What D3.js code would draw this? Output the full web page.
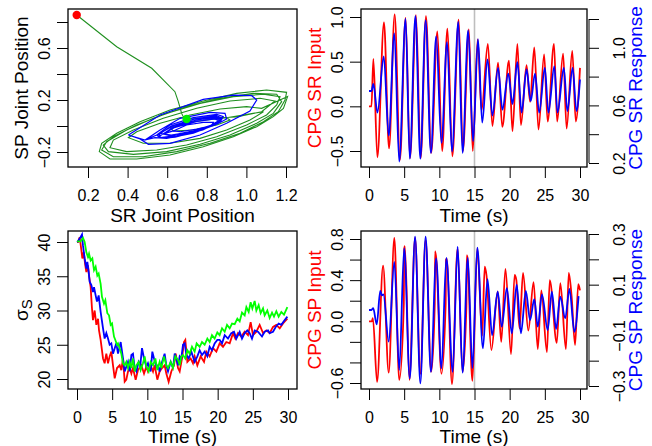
<!DOCTYPE html>
<html>
<head>
<meta charset="utf-8">
<script src="https://cdn.jsdelivr.net/npm/d3@7"></script>
<style>
body { margin: 0; background: #fff; }
text { font-family: "Liberation Sans", Arial, sans-serif; }
</style>
</head>
<body>
<div id="chart"></div>
<script>
// ---- panel 1: joint positions (SR vs SP) ----
const greenStart = [[0.143,0.854],[0.345,0.61],[0.522,0.444],[0.639,0.264],[0.656,0.187],[0.673,0.097],[0.685,0.059]];
const greenLoops = [
  [[0.681,0.021],[0.799,0.046],[0.900,0.064],[0.917,0.046],[0.850,0.008],[0.732,-0.031],[0.631,-0.038],[0.614,-0.013],[0.681,0.021],[0.799,0.046],[0.900,0.064]],
  [[1.086,0.110],[1.018,0.046],[0.900,-0.031],[0.766,-0.095],[0.614,-0.133],[0.479,-0.133],[0.404,-0.090],[0.446,-0.044],[0.564,0.021],[0.715,0.085],[0.867,0.131],[1.001,0.149],[1.077,0.136]],
  [[1.208,0.226],[1.187,0.136],[1.136,0.072],[1.052,-0.005],[0.934,-0.082],[0.782,-0.159],[0.614,-0.223],[0.446,-0.254],[0.311,-0.254],[0.257,-0.197],[0.269,-0.133],[0.345,-0.056],[0.463,0.033],[0.614,0.123],[0.782,0.192],[0.951,0.251],[1.102,0.277],[1.203,0.259]],
  [[1.195,0.200],[1.161,0.110],[1.086,0.033],[0.968,-0.056],[0.816,-0.133],[0.648,-0.197],[0.479,-0.236],[0.328,-0.236],[0.269,-0.185],[0.294,-0.121],[0.395,-0.031],[0.530,0.059],[0.698,0.149],[0.867,0.213],[1.035,0.251],[1.153,0.244]],
  [[1.178,0.187],[1.136,0.097],[1.052,0.021],[0.917,-0.069],[0.766,-0.141],[0.597,-0.197],[0.429,-0.218],[0.303,-0.197],[0.277,-0.146],[0.328,-0.082],[0.446,0.008],[0.597,0.097],[0.766,0.174],[0.934,0.226],[1.086,0.244],[1.170,0.226]],
  [[1.153,0.162],[1.102,0.085],[1.001,0.008],[0.850,-0.082],[0.698,-0.146],[0.547,-0.185],[0.395,-0.197],[0.311,-0.167],[0.328,-0.108],[0.429,-0.031],[0.580,0.059],[0.749,0.136],[0.917,0.192],[1.069,0.213],[1.144,0.192]]
];
const greenEnd = [[1.077,0.11],[0.95,0.07],[0.80,0.06],[0.698,0.054]];
const blueLoops = [
  [[0.404,-0.069],[0.564,0.085],[0.782,0.205],[0.934,0.238],[1.027,0.233],[1.052,0.200],[1.018,0.115],[0.900,0.021],[0.766,-0.069],[0.614,-0.133],[0.505,-0.141],[0.463,-0.100],[0.404,-0.069]],
  [[0.488,-0.108],[0.564,-0.031],[0.665,0.059],[0.816,0.105],[0.892,0.097],[0.900,0.054],[0.850,0.013],[0.732,-0.056],[0.597,-0.095],[0.538,-0.090],[0.488,-0.108]],
  [[0.547,-0.069],[0.614,0.008],[0.732,0.064],[0.850,0.090],[0.883,0.072],[0.867,0.028],[0.782,-0.023],[0.648,-0.074],[0.564,-0.090],[0.547,-0.069]],
  [[0.55,-0.075],[0.62,0.0],[0.74,0.055],[0.85,0.08],[0.875,0.062],[0.86,0.03],[0.78,-0.03],[0.65,-0.08],[0.57,-0.09],[0.55,-0.075]],
  [[0.56,-0.08],[0.63,-0.01],[0.745,0.045],[0.845,0.072],[0.87,0.055],[0.85,0.02],[0.77,-0.035],[0.64,-0.085],[0.575,-0.095],[0.56,-0.08]],
  [[0.564,-0.056],[0.631,0.003],[0.749,0.046],[0.841,0.064],[0.867,0.046],[0.833,0.008],[0.732,-0.038],[0.614,-0.074],[0.564,-0.056]],
  [[0.58,-0.06],[0.64,-0.01],[0.75,0.035],[0.84,0.055],[0.86,0.04],[0.82,0.005],[0.72,-0.045],[0.62,-0.07],[0.58,-0.06]],
  [[0.631,-0.038],[0.698,0.008],[0.782,0.028],[0.833,0.028],[0.825,0.003],[0.749,-0.023],[0.665,-0.044],[0.631,-0.038]]
];
const startPoint = [0.143, 0.854];
const endPoint = [0.698, 0.054];

// ---- panel 2: CPG SR input (left axis) and response (right axis) ----
const srInput = [[0,0],[0.35,0],[0.62,0.53],[1.19,-0.57],[2.13,0.94],[2.85,-0.47],[3.65,1.03],[4.4,-0.6],[5.2,0.99],[5.83,-0.58],[6.68,1.02],[7.35,-0.58],[8.1,1.01],[8.85,-0.52],[9.72,0.84],[10.4,-0.5],[11.15,0.87],[11.85,-0.56],[12.75,0.97],[13.35,-0.5],[14.2,0.86],[14.75,-0.5],[15.45,0.75],[16.0,-0.05],[16.9,0.7],[17.55,-0.22],[18.35,0.49],[18.95,-0.23],[19.9,0.51],[20.4,-0.28],[21.1,0.70],[21.6,-0.21],[22.4,0.46],[22.9,0.05],[23.5,0.66],[24.1,-0.26],[24.9,0.58],[25.4,-0.17],[26.3,0.70],[26.75,-0.17],[27.6,0.59],[28.1,-0.25],[28.9,0.62],[29.4,-0.17],[30,0.43]];
const srResponse = [[0,0.7],[0.35,0.7],[0.62,0.75],[1.2,0.55],[2.1,0.94],[2.8,0.39],[3.6,1.1],[4.3,0.21],[5.2,1.2],[5.8,0.23],[6.6,1.22],[7.3,0.23],[8.05,1.19],[8.8,0.27],[9.55,1.08],[10.3,0.34],[11.1,1.04],[11.8,0.28],[12.7,1.18],[13.3,0.27],[14.1,1.12],[14.8,0.35],[15.5,1.06],[16.1,0.48],[16.85,0.92],[17.55,0.53],[18.35,0.86],[18.97,0.57],[19.8,0.82],[20.4,0.61],[21.1,0.9],[21.7,0.55],[22.4,0.85],[23.0,0.63],[23.6,0.82],[24.2,0.55],[25.0,0.86],[25.5,0.55],[26.35,0.87],[26.8,0.55],[27.7,0.86],[28.2,0.56],[28.95,0.86],[29.5,0.56],[30,0.78]];

// ---- panel 3: sigma_S over time ----
const sigmaRed = [[0,40],[0.14,40.0],[0.38,40.7],[0.62,38.8],[0.76,37.6],[0.95,38.5],[1.18,36.6],[1.33,35.6],[1.56,36.6],[1.71,35.1],[1.94,33.4],[2.13,30.3],[2.27,28.6],[2.51,30.0],[2.75,27.9],[2.99,28.8],[3.13,27.1],[3.36,25.7],[3.70,23.0],[3.93,22.3],[4.17,23.7],[4.41,22.3],[4.64,23.3],[4.88,24.0],[5.12,22.0],[5.36,20.1],[5.69,21.6],[6.07,22.0],[6.30,21.3],[6.54,23.0],[6.78,19.6],[7.01,19.9],[7.25,21.1],[7.49,21.6],[7.73,20.8],[7.96,21.6],[8.34,19.9],[8.67,21.3],[9.15,22.0],[9.53,20.8],[9.86,21.8],[10.09,21.1],[10.47,22.0],[10.81,21.1],[11.04,22.0],[11.42,19.9],[11.75,21.1],[12.09,21.6],[12.46,22.0],[12.70,20.8],[13.03,19.6],[13.41,21.1],[13.79,22.0],[14.03,23.7],[14.36,21.6],[14.60,21.1],[14.93,23.0],[15.21,25.4],[15.40,25.7],[15.69,22.5],[16.16,23.0],[16.49,22.3],[16.73,23.3],[17.11,22.0],[17.58,23.3],[18.06,22.5],[18.39,24.0],[18.86,23.3],[19.34,24.5],[19.81,24.0],[20.28,25.2],[20.76,24.7],[21.23,25.4],[21.71,25.2],[22.18,26.7],[22.51,25.9],[22.89,26.7],[23.36,26.2],[23.84,26.9],[24.31,26.4],[24.69,28.3],[25.02,26.4],[25.50,26.9],[25.97,27.9],[26.45,26.7],[26.92,27.1],[27.39,26.7],[27.87,27.6],[28.34,27.9],[28.82,27.4],[29.29,28.1],[29.91,28.8]];
const sigmaBlue = [[0,40],[0.14,40.1],[0.38,40.5],[0.71,41.1],[0.85,39.5],[1.09,37.6],[1.33,36.1],[1.47,37.1],[1.66,35.6],[1.80,34.2],[2.04,33.7],[2.27,32.7],[2.42,33.4],[2.65,32.2],[2.84,31.3],[3.08,32.2],[3.36,29.8],[3.70,27.4],[3.93,25.9],[4.17,26.7],[4.41,25.9],[4.64,25.0],[4.88,25.2],[5.12,23.7],[5.36,24.5],[5.59,25.2],[5.83,23.7],[6.21,25.4],[6.54,23.0],[6.78,21.1],[7.01,21.8],[7.25,22.5],[7.49,21.1],[7.73,23.5],[7.96,23.7],[8.20,21.6],[8.44,21.1],[8.77,22.5],[9.00,22.0],[9.24,24.5],[9.53,23.0],[9.86,21.8],[10.09,22.3],[10.47,21.1],[10.71,24.0],[10.95,23.0],[11.28,21.8],[11.52,22.0],[11.75,21.1],[12.09,22.5],[12.46,23.7],[12.70,22.0],[12.94,21.1],[13.32,22.5],[13.65,21.6],[13.89,23.7],[14.12,23.0],[14.36,22.0],[14.60,23.3],[14.83,23.0],[15.07,25.0],[15.31,25.2],[15.55,23.5],[15.88,23.0],[16.26,24.0],[16.73,22.5],[17.11,23.3],[17.44,24.2],[17.77,23.5],[18.15,24.0],[18.53,23.3],[18.86,24.7],[19.19,24.2],[19.57,25.2],[19.95,25.7],[20.28,25.7],[20.62,25.2],[21.0,26.4],[21.47,25.9],[21.94,26.7],[22.32,26.9],[22.65,25.9],[23.13,26.9],[23.46,25.9],[23.84,26.7],[24.22,27.1],[24.55,26.7],[24.88,25.9],[25.26,27.1],[25.73,26.9],[26.30,26.2],[26.68,26.9],[27.16,27.1],[27.39,26.7],[27.87,26.9],[28.25,27.6],[28.67,28.1],[29.05,27.9],[29.53,28.6],[29.91,29.1]];
const sigmaGreen = [[0,40.1],[0.52,40.1],[0.85,40.6],[1.09,40.0],[1.33,38.5],[1.56,37.8],[1.71,38.3],[1.94,37.3],[2.18,37.6],[2.42,35.9],[2.65,36.4],[2.89,35.1],[3.08,35.4],[3.36,33.9],[3.55,32.0],[3.84,31.0],[4.03,31.5],[4.31,29.6],[4.55,29.3],[4.79,27.9],[4.98,28.1],[5.26,26.2],[5.45,25.7],[5.69,25.0],[5.83,25.2],[6.07,24.5],[6.30,23.7],[6.54,22.3],[6.78,22.0],[7.01,22.5],[7.25,21.6],[7.49,22.5],[7.73,21.6],[7.96,23.0],[8.20,21.1],[8.44,22.0],[8.77,22.5],[9.05,21.3],[9.38,22.3],[9.62,23.3],[9.86,21.8],[10.19,21.1],[10.47,22.5],[10.81,22.0],[11.14,23.0],[11.42,21.3],[11.75,22.5],[11.99,21.6],[12.37,23.3],[12.70,22.0],[12.94,21.6],[13.32,22.5],[13.65,21.6],[13.98,23.3],[14.36,22.8],[14.60,22.0],[14.83,23.3],[15.07,23.5],[15.40,23.0],[15.69,24.2],[16.02,23.7],[16.35,24.7],[16.73,24.0],[17.01,25.2],[17.44,24.7],[17.77,25.4],[18.15,25.0],[18.53,25.9],[18.86,25.4],[19.19,26.4],[19.57,25.9],[19.95,26.8],[20.28,26.4],[20.62,27.4],[21.0,26.9],[21.33,27.9],[21.71,27.4],[22.04,28.1],[22.42,28.0],[22.80,28.8],[23.13,28.4],[23.46,29.7],[23.84,29.3],[24.08,30.5],[24.41,29.8],[24.69,31.2],[24.93,30.3],[25.26,31.4],[25.50,30.0],[25.83,30.8],[26.11,29.6],[26.45,30.3],[26.68,29.3],[27.06,30.0],[27.39,28.9],[27.73,29.7],[28.01,29.1],[28.34,29.9],[28.67,29.1],[29.05,29.8],[29.43,29.4],[29.91,30.5]];

// ---- panel 4: CPG SP input (left axis) and response (right axis) ----
const spInput = [[0,0],[0.4,0],[0.55,0.03],[1.15,-0.59],[2.0,0.54],[2.8,-0.5],[3.6,0.81],[4.3,-0.57],[4.95,0.17],[5.0,0.7],[5.1,0.73],[5.75,-0.57],[6.55,0.81],[7.3,-0.51],[8.05,0.79],[8.85,-0.49],[9.35,0.17],[9.4,0.68],[9.55,0.62],[10.3,-0.51],[10.9,0.17],[10.95,0.6],[11.05,0.61],[11.8,-0.61],[12.6,0.71],[13.3,-0.49],[13.85,0.15],[13.9,0.64],[14.0,0.62],[14.7,-0.58],[15.4,0.71],[16.1,-0.14],[16.45,0.53],[16.7,0.45],[17.4,-0.28],[18.3,0.29],[18.8,-0.2],[19.4,0.51],[20.2,-0.32],[20.7,0.45],[20.95,0.4],[21.4,-0.07],[21.9,0.47],[22.65,-0.09],[23.4,0.38],[24.0,-0.27],[24.5,0.3],[25.3,-0.3],[25.7,0.4],[26.7,-0.21],[27.2,0.37],[28.0,-0.27],[28.4,0.47],[28.8,0.25],[29.3,-0.23],[29.75,0.36],[30,0.3]];
const spResponse = [[0,0],[0.35,0],[0.6,0.007],[1.1,-0.057],[1.6,0.075],[1.85,0.058],[2.05,0.062],[2.8,-0.125],[3.6,0.19],[4.3,-0.237],[5.0,0.243],[5.8,-0.27],[6.55,0.29],[7.3,-0.29],[8.05,0.29],[8.8,-0.244],[9.55,0.204],[10.3,-0.23],[11.0,0.206],[11.9,-0.244],[12.6,0.25],[13.3,-0.247],[14.05,0.206],[14.7,-0.23],[15.4,0.246],[16.2,-0.151],[16.85,0.122],[17.5,-0.099],[18.3,0.072],[18.87,-0.066],[19.6,0.086],[20.3,-0.092],[21.0,0.1],[21.6,-0.092],[22.3,0.075],[22.9,-0.04],[23.5,0.043],[24.0,-0.066],[24.6,0.062],[25.4,-0.079],[26.0,0.072],[26.6,-0.075],[27.2,0.053],[27.9,-0.033],[28.5,0.083],[29.2,-0.086],[29.8,0.055]];

// ticks
const p1xTicks = [0.2,0.4,0.6,0.8,1.0,1.2];
const p1yTicks = [-0.2,0.0,0.2,0.4,0.6,0.8];
const p1yLabels = [-0.2,0.2,0.6];
const timeTicks = [0,5,10,15,20,25,30];
const p2yLTicks = [-0.5,0.0,0.5,1.0];
const p2yRTicks = [0.2,0.4,0.6,0.8,1.0,1.2];
const p2yRLabels = [0.2,0.6,1.0];
const p3yTicks = [20,25,30,35,40];
const p4yLTicks = [-0.6,-0.4,-0.2,0.0,0.2,0.4,0.6,0.8];
const p4yLLabels = [-0.6,0.0,0.4,0.8];
const p4yRTicks = [-0.3,-0.2,-0.1,0.0,0.1,0.2,0.3];
const p4yRLabels = [-0.3,-0.1,0.1,0.3];
const switchTime = 15;

const W = 652, H = 446;
const tickFont = 16, labFont = 19;
const svg = d3.select("#chart").append("svg")
    .attr("width", W).attr("height", H);

// panel boxes
const boxes = {
    p1: { l: 68, r: 297, t: 9, b: 167, title: 55 },
    p2: { l: 361, r: 587, t: 9, b: 167, title: 55 },
    p3: { l: 68, r: 297, t: 231, b: 389, title: 54 },
    p4: { l: 361, r: 587, t: 231, b: 389, title: 54 }
};

// scales
const p1x = d3.scaleLinear().domain([0.2, 1.2]).range([88, 286]);
const p1y = d3.scaleLinear().domain([-0.2, 0.8]).range([152, 22]);
const p2x = d3.scaleLinear().domain([0, 30]).range([369, 580]);
const p2yL = d3.scaleLinear().domain([-0.5, 1.0]).range([151, 17]);
const p2yR = d3.scaleLinear().domain([0.2, 1.2]).range([163, 19]);
const p3x = d3.scaleLinear().domain([0, 30]).range([77, 288]);
const p3y = d3.scaleLinear().domain([20, 40]).range([379, 242]);
const p4x = p2x;
const p4yL = d3.scaleLinear().domain([-0.6, 0.8]).range([383, 239]);
const p4yR = d3.scaleLinear().domain([-0.3, 0.3]).range([386, 234]);

const fmt = d => d3.format(".1f")(d).replace("-", "\u2212");

function bottomAxis(box, scale, ticks, labels, fmtFn) {
    let g = svg.append("g").attr("transform", "translate(0," + box.b + ")")
        .call(d3.axisBottom(scale).tickValues(ticks).tickSize(11)
            .tickFormat(d => labels.includes(d) ? fmtFn(d) : ""));
    g.select(".domain").remove();
    g.selectAll("line").attr("stroke", "#000");
    g.selectAll("text").attr("y", 34).attr("dy", null)
        .attr("fill", "#000").style("font-size", tickFont + "px");
}

function leftAxis(box, scale, ticks, labels, fmtFn) {
    let g = svg.append("g").attr("transform", "translate(" + box.l + ",0)")
        .call(d3.axisLeft(scale).tickValues(ticks).tickSize(11)
            .tickFormat(d => labels.includes(d) ? fmtFn(d) : ""));
    g.select(".domain").remove();
    g.selectAll("line").attr("stroke", "#000");
    g.selectAll("text").attr("x", null).attr("dy", null)
        .attr("text-anchor", "middle")
        .attr("transform", "translate(-18,0) rotate(-90)")
        .attr("fill", "#000").style("font-size", tickFont + "px");
}

function rightAxis(x, scale, ticks, labels, fmtFn) {
    let g = svg.append("g").attr("transform", "translate(" + x + ",0)")
        .call(d3.axisRight(scale).tickValues(ticks).tickSize(10)
            .tickFormat(d => labels.includes(d) ? fmtFn(d) : ""));
    g.select(".domain").attr("d", "M0," + scale(ticks[0]) + "V" + scale(ticks[ticks.length - 1]))
        .attr("stroke", "#000");
    g.selectAll("line").attr("stroke", "#000");
    g.selectAll("text").attr("x", null).attr("dy", null)
        .attr("text-anchor", "middle")
        .attr("transform", "translate(36,0) rotate(-90)")
        .attr("fill", "#000").style("font-size", tickFont + "px");
}

function drawBox(box) {
    svg.append("rect")
        .attr("x", box.l).attr("y", box.t)
        .attr("width", box.r - box.l).attr("height", box.b - box.t)
        .attr("fill", "none").attr("stroke", "#000").attr("stroke-width", 1.3);
}

function xTitle(box, txt) {
    svg.append("text")
        .attr("x", (box.l + box.r) / 2).attr("y", box.b + box.title)
        .attr("text-anchor", "middle").style("font-size", labFont + "px")
        .text(txt);
}

function yTitle(x, box, txt, color) {
    svg.append("text")
        .attr("transform", "translate(" + x + "," + ((box.t + box.b) / 2) + ") rotate(-90)")
        .attr("text-anchor", "middle").style("font-size", labFont + "px")
        .attr("fill", color)
        .text(txt);
}

// ---------- panel 1 ----------
let b = boxes.p1;
let line1 = d3.line().x(d => p1x(d[0])).y(d => p1y(d[1]));
let greenPath = greenStart.concat(...greenLoops, greenEnd);
svg.append("path").datum(greenPath)
    .attr("d", line1).attr("fill", "none")
    .attr("stroke", "#1f8f1f").attr("stroke-width", 1.1);
svg.append("path").datum([].concat(...blueLoops))
    .attr("d", line1).attr("fill", "none")
    .attr("stroke", "#0000ff").attr("stroke-width", 1.2);
svg.append("circle").attr("cx", p1x(startPoint[0])).attr("cy", p1y(startPoint[1]))
    .attr("r", 4.2).attr("fill", "#ff0000");
svg.append("circle").attr("cx", p1x(endPoint[0])).attr("cy", p1y(endPoint[1]))
    .attr("r", 4.2).attr("fill", "#00ee00");
drawBox(b);
bottomAxis(b, p1x, p1xTicks, p1xTicks, fmt);
leftAxis(b, p1y, p1yTicks, p1yLabels, fmt);
xTitle(b, "SR Joint Position");
yTitle(b.l - 40, b, "SP Joint Position", "#000");

// ---------- panel 2 ----------
b = boxes.p2;
svg.append("line")
    .attr("x1", p2x(switchTime)).attr("x2", p2x(switchTime))
    .attr("y1", b.t).attr("y2", b.b)
    .attr("stroke", "#bebebe").attr("stroke-width", 1.6);
svg.append("path").datum(srInput)
    .attr("d", d3.line().curve(d3.curveMonotoneX).x(d => p2x(d[0])).y(d => p2yL(d[1])))
    .attr("fill", "none").attr("stroke", "#ff0000").attr("stroke-width", 1.8);
svg.append("path").datum(srResponse)
    .attr("d", d3.line().curve(d3.curveMonotoneX).x(d => p2x(d[0])).y(d => p2yR(d[1])))
    .attr("fill", "none").attr("stroke", "#0000ff").attr("stroke-width", 1.8);
drawBox(b);
bottomAxis(b, p2x, timeTicks, timeTicks, d => d);
leftAxis(b, p2yL, p2yLTicks, p2yLTicks, fmt);
rightAxis(589, p2yR, p2yRTicks, p2yRLabels, fmt);
xTitle(b, "Time (s)");
yTitle(b.l - 40, b, "CPG SR Input", "#ff0000");
yTitle(642, b, "CPG SR Response", "#0000ff");

// ---------- panel 3 ----------
b = boxes.p3;
let line3 = d3.line().x(d => p3x(d[0])).y(d => p3y(d[1]));
[[sigmaRed, "#ff0000"], [sigmaBlue, "#0000ff"], [sigmaGreen, "#00ff00"]].forEach(s => {
    svg.append("path").datum(s[0])
        .attr("d", line3).attr("fill", "none")
        .attr("stroke", s[1]).attr("stroke-width", 1.8);
});
drawBox(b);
bottomAxis(b, p3x, timeTicks, timeTicks, d => d);
leftAxis(b, p3y, p3yTicks, p3yTicks, d => d);
xTitle(b, "Time (s)");
let sig = svg.append("text")
    .attr("transform", "translate(" + (b.l - 40) + "," + ((b.t + b.b) / 2) + ") rotate(-90)")
    .attr("text-anchor", "middle").style("font-size", labFont + "px");
sig.append("tspan").text("\u03c3");
sig.append("tspan").attr("dy", 4).style("font-size", "15px").text("S");

// ---------- panel 4 ----------
b = boxes.p4;
svg.append("line")
    .attr("x1", p4x(switchTime)).attr("x2", p4x(switchTime))
    .attr("y1", b.t).attr("y2", b.b)
    .attr("stroke", "#bebebe").attr("stroke-width", 1.6);
svg.append("path").datum(spInput)
    .attr("d", d3.line().curve(d3.curveMonotoneX).x(d => p4x(d[0])).y(d => p4yL(d[1])))
    .attr("fill", "none").attr("stroke", "#ff0000").attr("stroke-width", 1.8);
svg.append("path").datum(spResponse)
    .attr("d", d3.line().curve(d3.curveMonotoneX).x(d => p4x(d[0])).y(d => p4yR(d[1])))
    .attr("fill", "none").attr("stroke", "#0000ff").attr("stroke-width", 1.8);
drawBox(b);
bottomAxis(b, p4x, timeTicks, timeTicks, d => d);
leftAxis(b, p4yL, p4yLTicks, p4yLLabels, fmt);
rightAxis(589, p4yR, p4yRTicks, p4yRLabels, fmt);
xTitle(b, "Time (s)");
yTitle(b.l - 40, b, "CPG SP Input", "#ff0000");
yTitle(642, b, "CPG SP Response", "#0000ff");
</script>
</body>
</html>
